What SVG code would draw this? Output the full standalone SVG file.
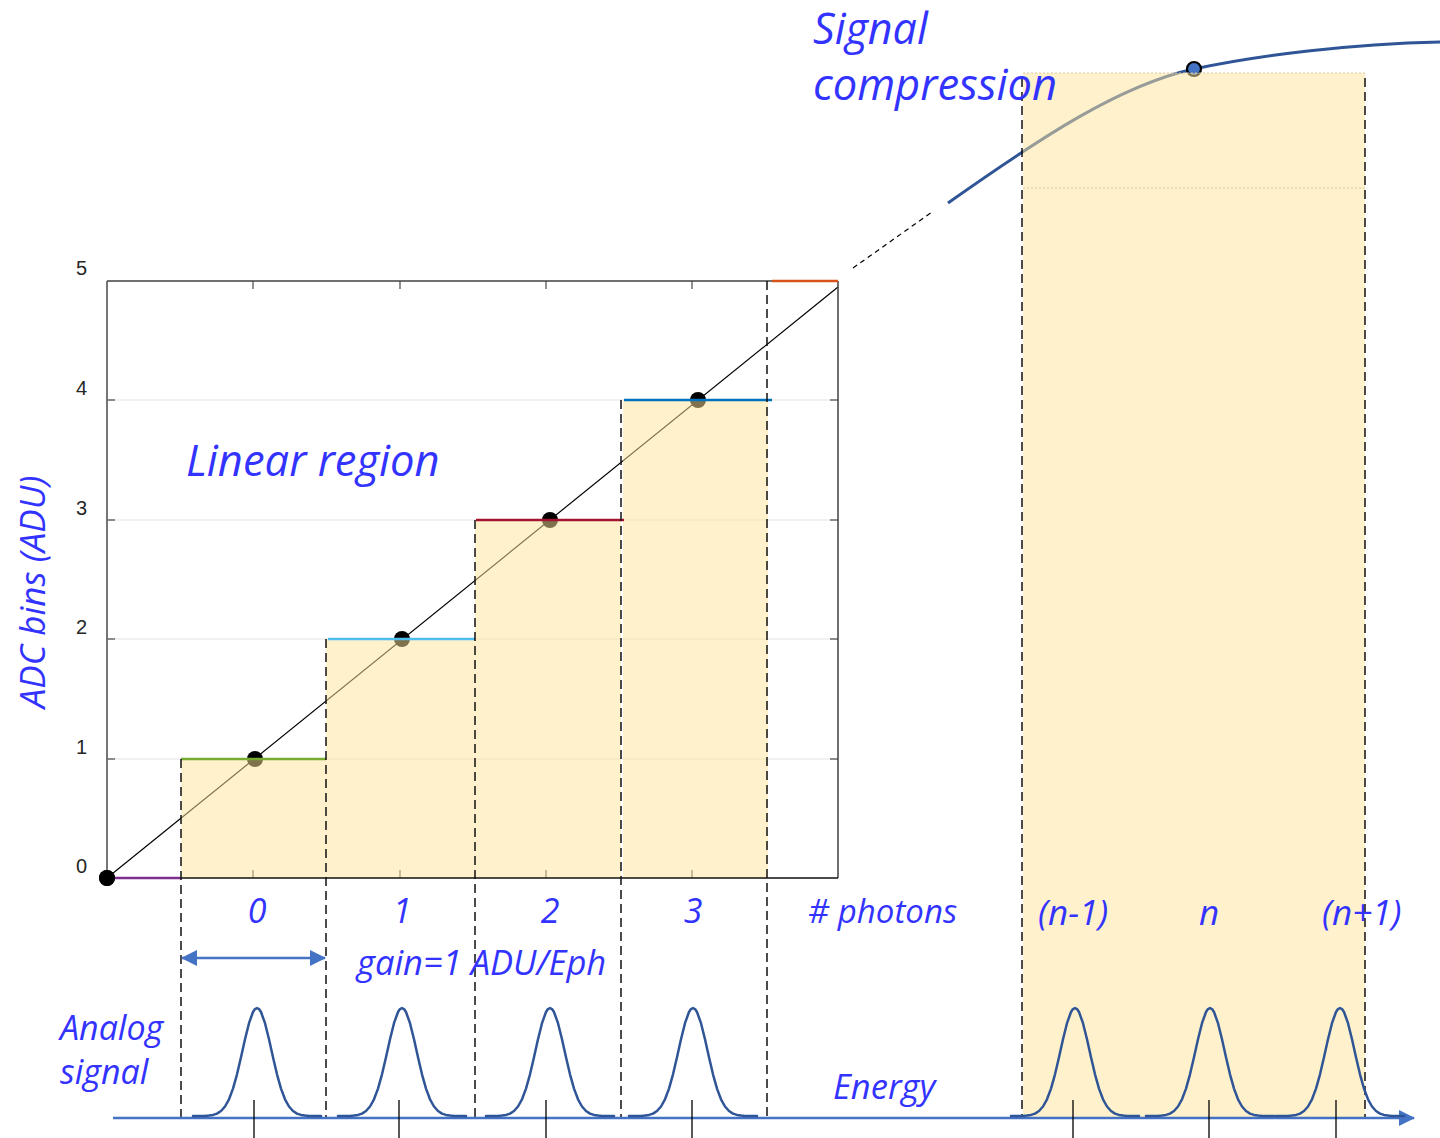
<svg xmlns="http://www.w3.org/2000/svg" width="1440" height="1138" viewBox="0 0 1440 1138">
<style>
.lbl{font-family:"Open Sans","Liberation Sans",sans-serif;font-style:italic;fill:#3333FF;}
.ytk{font-family:"Liberation Sans",Arial,sans-serif;font-size:20px;fill:#262626;text-anchor:end;}
.grid{stroke:#E3E3E3;stroke-width:1.2;}
.dash{stroke:#111;stroke-width:1.5;stroke-dasharray:9 5;fill:none;}
.hl{stroke-width:2.5;fill:none;}
.yel{fill:#FFE49A;fill-opacity:0.5;}
.gauss{fill:none;stroke:#2F5597;stroke-width:2.5;stroke-linejoin:round;stroke-linecap:round;}
.tk{stroke:#000;stroke-width:1.3;}
.ctk{stroke:#555;stroke-width:1.3;}
.dot{fill:#000;}
</style>
<defs>
<path id="gs" class="gauss" d="M-64,0 L-52,0 L-48,-0.5 L-44,-1.1 L-40,-2.4 L-36,-5 L-32,-9.5 L-28,-16.7 L-24,-27.4 L-20,-41.7 L-16,-58.7 L-12,-76.7 L-8,-92.8 L-4,-104 L-2,-107 L0,-108 L2,-107 L4,-104 L8,-92.8 L12,-76.7 L16,-58.7 L20,-41.7 L24,-27.4 L28,-16.7 L32,-9.5 L36,-5 L40,-2.4 L44,-1.1 L48,-0.5 L52,0 L64,0"/>
<marker id="ah" viewBox="0 0 16 16" refX="15" refY="8" markerWidth="16" markerHeight="16" markerUnits="userSpaceOnUse" orient="auto-start-reverse">
<path d="M0,0 L16,8 L0,16 z" fill="#4472C4"/>
</marker>
</defs>

<g id="chart-grid">
<line class="grid" x1="107" y1="400" x2="838" y2="400"/>
<line class="grid" x1="107" y1="520" x2="838" y2="520"/>
<line class="grid" x1="107" y1="639" x2="838" y2="639"/>
<line class="grid" x1="107" y1="759" x2="838" y2="759"/>
</g>

<g id="chart-ticks">
<line class="ctk" x1="253" y1="878" x2="253" y2="870"/>
<line class="ctk" x1="400" y1="878" x2="400" y2="870"/>
<line class="ctk" x1="546" y1="878" x2="546" y2="870"/>
<line class="ctk" x1="692" y1="878" x2="692" y2="870"/>
<line class="ctk" x1="253" y1="281" x2="253" y2="289"/>
<line class="ctk" x1="400" y1="281" x2="400" y2="289"/>
<line class="ctk" x1="546" y1="281" x2="546" y2="289"/>
<line class="ctk" x1="692" y1="281" x2="692" y2="289"/>
<line class="ctk" x1="107" y1="400" x2="115" y2="400"/>
<line class="ctk" x1="107" y1="520" x2="115" y2="520"/>
<line class="ctk" x1="107" y1="639" x2="115" y2="639"/>
<line class="ctk" x1="107" y1="759" x2="115" y2="759"/>
<line class="ctk" x1="838" y1="400" x2="830" y2="400"/>
<line class="ctk" x1="838" y1="520" x2="830" y2="520"/>
<line class="ctk" x1="838" y1="639" x2="830" y2="639"/>
<line class="ctk" x1="838" y1="759" x2="830" y2="759"/>
</g>

<g id="linear-fit">
<line x1="107" y1="878" x2="838" y2="287" stroke="#000" stroke-width="1.2"/>
<circle class="dot" cx="107" cy="878" r="8"/>
<circle class="dot" cx="255" cy="759" r="8"/>
<circle class="dot" cx="402" cy="639" r="8"/>
<circle class="dot" cx="550" cy="520" r="8"/>
<circle class="dot" cx="698" cy="400" r="8"/>
</g>

<g id="compression-curve">
<path d="M948,203 C1040,138 1120,85 1194,69 C1260,55 1350,44 1440,42" fill="none" stroke="#2F5597" stroke-width="3"/>
<line x1="853" y1="268" x2="932" y2="212" stroke="#000" stroke-width="1.2" stroke-dasharray="5 4"/>
<circle cx="1194" cy="69" r="7" fill="#4472C4" stroke="#000" stroke-width="2.2"/>
</g>

<g id="bins">
<rect class="yel" x="181" y="759" width="145" height="119"/>
<rect class="yel" x="326" y="639" width="149" height="239"/>
<rect class="yel" x="475" y="520" width="146" height="358"/>
<rect class="yel" x="623" y="400" width="145" height="478"/>
<rect class="yel" x="1023" y="73" width="342" height="1045"/>
<line x1="1023" y1="73" x2="1365" y2="73" stroke="#D8C7A0" stroke-width="1" stroke-dasharray="2 2"/>
<line x1="1023" y1="188" x2="1365" y2="188" stroke="#D8C7A0" stroke-width="1" stroke-dasharray="2 2"/>
</g>

<g id="chart-frame">
<line x1="107" y1="281" x2="838" y2="281" stroke="#404040" stroke-width="1.5"/>
<line x1="107" y1="281" x2="107" y2="878" stroke="#666" stroke-width="1.8"/>
<line x1="838" y1="281" x2="838" y2="878" stroke="#404040" stroke-width="1.5"/>
<line x1="107" y1="878" x2="838" y2="878" stroke="#111" stroke-width="1.5"/>
</g>

<g id="levels">
<line class="hl" x1="107" y1="878" x2="181" y2="878" stroke="#7E2F8E"/>
<line class="hl" x1="181" y1="759" x2="326" y2="759" stroke="#77AC30"/>
<line class="hl" x1="328" y1="639" x2="475" y2="639" stroke="#4DBEEE"/>
<line class="hl" x1="476" y1="520" x2="624" y2="520" stroke="#A2142F"/>
<line class="hl" x1="624" y1="400" x2="772" y2="400" stroke="#0072BD"/>
<line class="hl" x1="772" y1="281" x2="838" y2="281" stroke="#D95319"/>
<circle class="dot" cx="107" cy="878" r="8"/>
</g>

<g id="bin-edges">
<line class="dash" x1="181" y1="759" x2="181" y2="1118"/>
<line class="dash" x1="326" y1="639" x2="326" y2="1118"/>
<line class="dash" x1="475" y1="520" x2="475" y2="1118"/>
<line class="dash" x1="621" y1="400" x2="621" y2="1118"/>
<line class="dash" x1="767" y1="281" x2="767" y2="1118"/>
<line class="dash" x1="1022" y1="78" x2="1022" y2="1118"/>
<line class="dash" x1="1365" y1="78" x2="1365" y2="1118"/>
</g>

<g id="energy-axis">
<line x1="113" y1="1118" x2="1414" y2="1118" stroke="#4472C4" stroke-width="2.5" marker-end="url(#ah)"/>
<use href="#gs" x="257" y="1116"/>
<use href="#gs" x="402" y="1116"/>
<use href="#gs" x="550" y="1116"/>
<use href="#gs" x="693" y="1116"/>
<use href="#gs" x="1075" y="1116"/>
<use href="#gs" x="1210" y="1116"/>
<use href="#gs" x="1340" y="1116"/>
<line class="tk" x1="254" y1="1100" x2="254" y2="1138"/>
<line class="tk" x1="399" y1="1100" x2="399" y2="1138"/>
<line class="tk" x1="546" y1="1100" x2="546" y2="1138"/>
<line class="tk" x1="692" y1="1100" x2="692" y2="1138"/>
<line class="tk" x1="1073" y1="1100" x2="1073" y2="1138"/>
<line class="tk" x1="1209" y1="1100" x2="1209" y2="1138"/>
<line class="tk" x1="1336" y1="1100" x2="1336" y2="1138"/>
</g>

<g id="gain-arrow">
<line x1="182" y1="958" x2="325" y2="958" stroke="#4472C4" stroke-width="2.5" marker-start="url(#ah)" marker-end="url(#ah)"/>
</g>

<g id="y-tick-labels">
<text class="ytk" x="87" y="275">5</text>
<text class="ytk" x="87" y="395">4</text>
<text class="ytk" x="87" y="515">3</text>
<text class="ytk" x="87" y="634">2</text>
<text class="ytk" x="87" y="754">1</text>
<text class="ytk" x="87" y="873">0</text>
</g>

<g id="labels">
<text class="lbl" font-size="43" x="813" y="44">Signal</text>
<text class="lbl" font-size="43.5" x="813" y="100">compression</text>
<text class="lbl" font-size="43.5" x="186" y="476">Linear region</text>
<text class="lbl" font-size="35" text-anchor="middle" transform="translate(45,592) rotate(-90)">ADC bins (ADU)</text>
<text class="lbl" font-size="34" text-anchor="middle" x="257" y="923">0</text>
<text class="lbl" font-size="34" text-anchor="middle" x="402" y="923">1</text>
<text class="lbl" font-size="34" text-anchor="middle" x="550" y="923">2</text>
<text class="lbl" font-size="34" text-anchor="middle" x="693" y="923">3</text>
<text class="lbl" font-size="33" x="808" y="923"># photons</text>
<text class="lbl" font-size="35" x="1038" y="925">(n-1)</text>
<text class="lbl" font-size="35" text-anchor="middle" x="1209" y="925">n</text>
<text class="lbl" font-size="35" x="1322" y="925">(n+1)</text>
<text class="lbl" font-size="34.5" x="357" y="975">gain=1 ADU/Eph</text>
<text class="lbl" font-size="34" x="60" y="1040">Analog</text>
<text class="lbl" font-size="34" x="60" y="1084">signal</text>
<text class="lbl" font-size="34.5" x="833" y="1099">Energy</text>
</g>
</svg>
